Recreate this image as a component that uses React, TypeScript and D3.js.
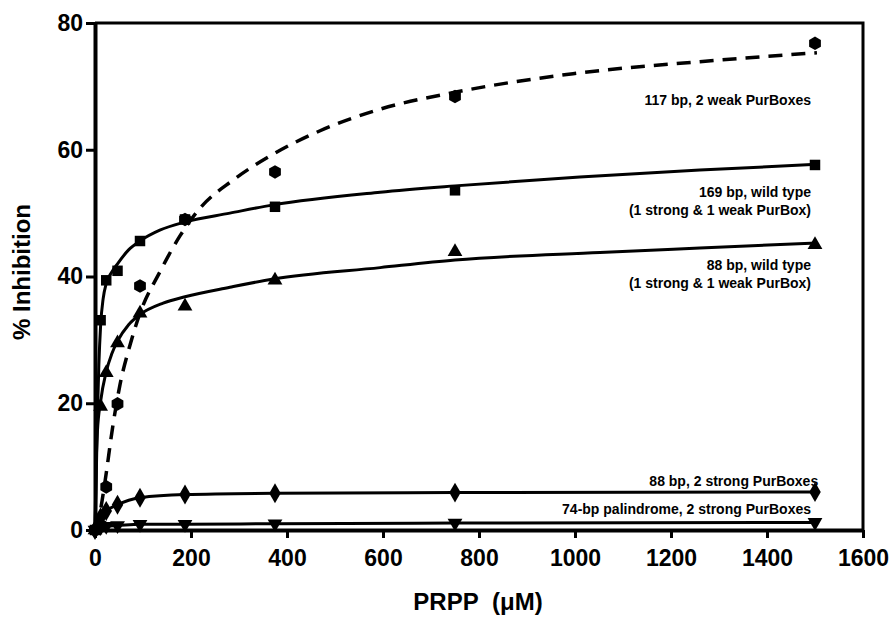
import React, { useEffect, useRef } from "react"
import * as d3 from "d3"

// PRPP concentrations (uM) used for every series
const conc = [0, 11.7, 23.4, 46.9, 93.75, 187.5, 375, 750, 1500]

// measured % inhibition
const weak117 = [0, 0.8, 6.8, 19.9, 38.5, 49.0, 56.5, 68.4, 76.8]
const wt169 = [0, 33.1, 39.4, 40.9, 45.6, 49.0, 51.0, 53.6, 57.6]
const wt88 = [0, 19.5, 24.8, 29.5, 34.2, 35.3, 39.4, 43.9, 45.0]
const strong88 = [0, 2.0, 3.0, 4.0, 5.1, 5.6, 5.8, 5.9, 6.0]
const pal74 = [0, 0.4, 0.6, 0.7, 0.9, 0.9, 1.0, 1.1, 1.2]

// fitted curves as [x, y]
const fit117 = [
    [2, 0], [10.4, 2.7], [20.8, 7.6], [37.5, 16.6], [52, 22.9], [73, 29.2],
    [93.75, 34.2], [135, 40.7], [177, 46.4], [219, 50.8], [287.5, 55.2],
    [369, 59.2], [469, 63.0], [594, 66.4], [752, 69.1], [996, 72.0],
    [1260, 73.9], [1504, 75.3],
]
const fit169 = [
    [0, 0], [2, 6], [5, 18], [8, 26], [11.7, 32.3], [17, 36.5], [23.4, 38.9],
    [35, 40.7], [46.9, 42.0], [70, 44.2], [93.75, 45.6], [135, 47.3],
    [187.5, 48.6], [281, 50.0], [371, 51.3], [594, 53.3], [750, 54.3],
    [1010, 55.7], [1260, 56.8], [1504, 57.7],
]
const fit88 = [
    [0, 0], [2, 9], [5, 15.5], [11.7, 20.3], [23.4, 25.0], [35, 27.8],
    [46.9, 29.8], [70, 32.4], [93.75, 34.0], [142, 35.8], [187.5, 36.8],
    [281, 38.3], [371, 39.6], [594, 41.4], [750, 42.6], [1052, 43.8],
    [1260, 44.5], [1504, 45.3],
]

const xTicks = [0, 200, 400, 600, 800, 1000, 1200, 1400, 1600]
const yTicks = [0, 20, 40, 60, 80]

const labels = [
    { lines: ["117 bp, 2 weak PurBoxes"], x: 1500, y: 67 },
    { lines: ["169 bp, wild type", "(1 strong & 1 weak PurBox)"], x: 1500, y: 52.5 },
    { lines: ["88 bp, wild type", "(1 strong & 1 weak PurBox)"], x: 1500, y: 41 },
    { lines: ["88 bp, 2 strong PurBoxes"], x: 1515, y: 7 },
    { lines: ["74-bp palindrome, 2 strong PurBoxes"], x: 1500, y: 2.5 },
]

const hexagon = {
    draw(ctx, size) {
        const r = Math.sqrt(size / 2.598)
        for (let i = 0; i < 6; i++) {
            const a = (Math.PI / 3) * i + Math.PI / 6
            const px = r * Math.cos(a)
            const py = r * Math.sin(a)
            if (i === 0) ctx.moveTo(px, py)
            else ctx.lineTo(px, py)
        }
        ctx.closePath()
    },
}

const App = () => {
    const ref = useRef(null)

    useEffect(() => {
        const svg = d3.select(ref.current)
        svg.selectAll("*").remove()

        const x = d3.scaleLinear().domain([0, 1600]).range([95, 863])
        const y = d3.scaleLinear().domain([0, 80]).range([530, 23])
        const font = "'Liberation Sans', Arial, sans-serif"

        // frame (top and right)
        svg.append("path")
            .attr("d", `M${x(0)},${y(80)}H${x(1600)}V${y(0)}`)
            .attr("fill", "none")
            .attr("stroke", "#000")
            .attr("stroke-width", 3)

        const xAxis = svg
            .append("g")
            .attr("transform", `translate(0,${y(0)})`)
            .call(
                d3
                    .axisBottom(x)
                    .tickValues(xTicks)
                    .tickFormat(d3.format("d"))
                    .tickSize(8)
                    .tickSizeOuter(0)
                    .tickPadding(12),
            )
        const yAxis = svg
            .append("g")
            .attr("transform", `translate(${x(0)},0)`)
            .call(
                d3
                    .axisLeft(y)
                    .tickValues(yTicks)
                    .tickFormat(d3.format("d"))
                    .tickSize(9)
                    .tickSizeOuter(0)
                    .tickPadding(3),
            )
        ;[xAxis, yAxis].forEach((a) => {
            a.select(".domain").attr("stroke-width", 4)
            a.selectAll(".tick line").attr("stroke-width", 3)
            a.selectAll(".tick text")
                .attr("font-family", font)
                .attr("font-weight", "bold")
                .attr("font-size", 23)
                .attr("fill", "#000")
        })
        xAxis.selectAll(".tick text").attr("dy", "0.71em")

        // curves
        const line = d3
            .line()
            .x((d) => x(d[0]))
            .y((d) => y(d[1]))
            .curve(d3.curveMonotoneX)

        svg.append("path")
            .attr("d", line(fit117))
            .attr("fill", "none")
            .attr("stroke", "#000")
            .attr("stroke-width", 3.5)
            .attr("stroke-dasharray", "14,9")
        ;[fit169, fit88].forEach((f) => {
            svg.append("path")
                .attr("d", line(f))
                .attr("fill", "none")
                .attr("stroke", "#000")
                .attr("stroke-width", 3)
        })
        ;[strong88, pal74].forEach((vals) => {
            svg.append("path")
                .attr("d", line(conc.map((c, i) => [c, vals[i]])))
                .attr("fill", "none")
                .attr("stroke", "#000")
                .attr("stroke-width", 3)
        })

        // markers
        const series = [
            { vals: weak117, type: hexagon, size: 120, rot: 0 },
            { vals: wt169, type: d3.symbolSquare, size: 110, rot: 0 },
            { vals: wt88, type: d3.symbolTriangle, size: 95, rot: 0 },
            { vals: strong88, type: d3.symbolDiamond, size: 115, rot: 0 },
            { vals: pal74, type: d3.symbolTriangle, size: 95, rot: 180 },
        ]
        series.forEach((s) => {
            svg.append("g")
                .selectAll("path")
                .data(conc.map((c, i) => [c, s.vals[i]]))
                .enter()
                .append("path")
                .attr("d", d3.symbol().type(s.type).size(s.size)())
                .attr(
                    "transform",
                    (d) => `translate(${x(d[0])},${y(d[1])}) rotate(${s.rot})`,
                )
                .attr("fill", "#000")
        })

        // series labels
        labels.forEach((l) => {
            const t = svg
                .append("text")
                .attr("x", x(l.x) - 4)
                .attr("y", y(l.y))
                .attr("text-anchor", "end")
                .attr("font-family", font)
                .attr("font-weight", "bold")
                .attr("font-size", 14)
            l.lines.forEach((ln, i) => {
                t.append("tspan")
                    .attr("x", x(l.x) - 4)
                    .attr("dy", i === 0 ? 0 : "1.25em")
                    .text(ln)
            })
        })

        // axis titles
        svg.append("text")
            .attr("x", 478)
            .attr("y", 610)
            .attr("text-anchor", "middle")
            .attr("font-family", font)
            .attr("font-weight", "bold")
            .attr("font-size", 24)
            .text("PRPP\u00a0\u00a0(\u03bcM)")
        svg.append("text")
            .attr("transform", "translate(30,272) rotate(-90)")
            .attr("text-anchor", "middle")
            .attr("font-family", font)
            .attr("font-weight", "bold")
            .attr("font-size", 24)
            .text("% Inhibition")
    }, [])

    return (
        <svg
            ref={ref}
            width={890}
            height={620}
            style={{ position: "absolute", left: 0, top: 0, background: "#fff" }}
        />
    )
}

export default App
